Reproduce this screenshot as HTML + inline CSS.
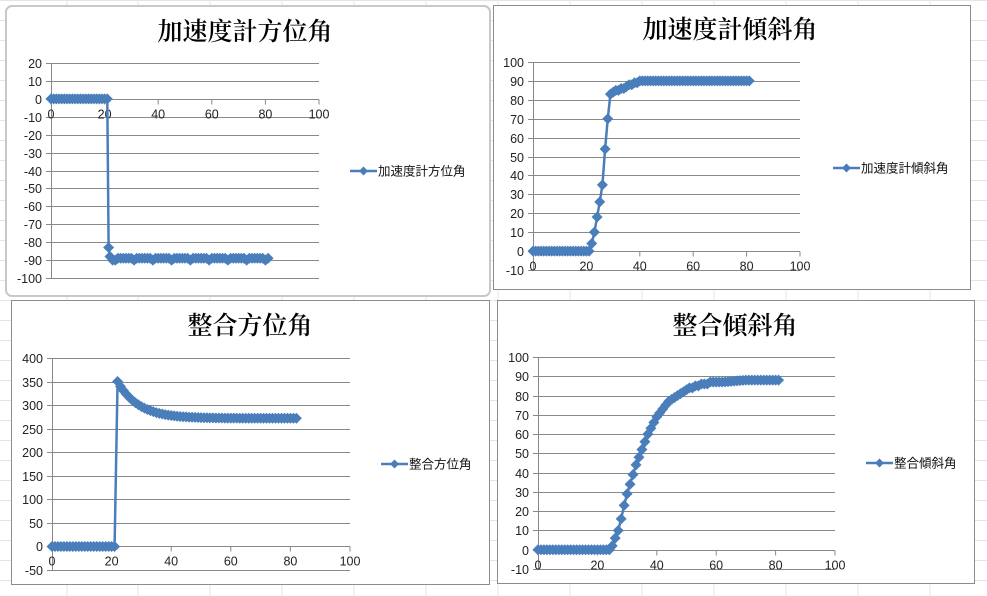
<!DOCTYPE html>
<html><head><meta charset="utf-8"><style>
html,body{margin:0;padding:0;background:#fff;width:987px;height:596px;overflow:hidden}
svg{display:block}
text{font-family:"Liberation Sans","Noto Sans CJK JP",sans-serif}
</style></head><body>
<svg id="s" width="987" height="596" xmlns="http://www.w3.org/2000/svg"></svg>
<script>
const s=document.getElementById('s');let h='';
for(let x of [67,138,210,282,354,426,498,570,642,714,786,858,930])h+=`<line x1="${x}" y1="0" x2="${x}" y2="596" stroke="#e4e4e4" stroke-width="1"/>`;
for(let y=0;y<596;y+=20)h+=`<line x1="0" y1="${y+0.5}" x2="987" y2="${y+0.5}" stroke="#e4e4e4" stroke-width="1"/>`;
function chart(c){
 const [fx,fy,fw,fh]=c.frame;
 h+=`<rect x="${fx}" y="${fy}" width="${fw}" height="${fh}" rx="${c.rx||0}" fill="#fff" stroke="${c.rx?'#c8c8c8':'#8c8c8c'}" stroke-width="${c.rx?2:1}"/>`;
 h+=`<text x="${c.tx}" y="${c.ty}" font-size="25" text-anchor="middle" style="font-family:'Noto Serif CJK SC','Noto Serif CJK JP',serif;font-weight:600">${c.title}</text>`;
 const X=v=>c.x0+(c.x1-c.x0)*v/100, Y=v=>c.y0+(c.y1-c.y0)*(v-c.ymin)/(c.ymax-c.ymin);
 for(let v=c.ymin;v<=c.ymax;v+=c.ystep){const y=Math.round(Y(v))+0.5;
  h+=`<line x1="${c.x0-5}" y1="${y}" x2="${c.x1}" y2="${y}" stroke="#888" stroke-width="1"/>`;
  h+=`<text x="${c.x0-9}" y="${y+4.5}" font-size="12.5" text-anchor="end" fill="#222">${v}</text>`;}
 h+=`<line x1="${c.x0+0.5}" y1="${Y(c.ymin)}" x2="${c.x0+0.5}" y2="${Y(c.ymax)}" stroke="#888"/>`;
 const y0=Math.round(Y(0))+0.5;
 for(let v=0;v<=100;v+=20){const x=X(v);h+=`<line x1="${x}" y1="${y0}" x2="${x}" y2="${y0+5}" stroke="#888"/>`;
  h+=`<text x="${x}" y="${y0+19}" font-size="12.5" text-anchor="middle" fill="#222">${v}</text>`;}
 const pts=c.data.map(([a,b])=>[X(a),Y(b)]);
 h+=`<polyline points="${pts.map(p=>p.join(',')).join(' ')}" fill="none" stroke="#4A7EBB" stroke-width="2.5"/>`;
 for(const [x,y] of pts)h+=`<path d="M${x-5.5},${y}L${x},${y-5.5}L${x+5.5},${y}L${x},${y+5.5}Z" fill="#4A7EBB"/>`;
 const [lx,ly]=c.leg;
 h+=`<line x1="${lx}" y1="${ly}" x2="${lx+27}" y2="${ly}" stroke="#4A7EBB" stroke-width="2.5"/><path d="M${lx+13.5-4.5},${ly}L${lx+13.5},${ly-4.5}L${lx+18},${ly}L${lx+13.5},${ly+4.5}Z" fill="#4A7EBB"/>`;
 h+=`<text x="${lx+28}" y="${ly+4.5}" font-size="12.5" fill="#111">${c.title}</text>`;
}
let d1=[];for(let i=0;i<=20;i++)d1.push([i,0]);d1.push([21,0],[21.5,-83],[22,-88],[23,-90]);for(let i=24;i<=81;i++)d1.push([i,-89-(i%7==3?1:0)]);
let d2=[];for(let i=0;i<=21;i++)d2.push([i,0]);
[[22,4],[23,10],[24,18],[25,26],[26,35],[27,54],[28,70],[29,83],[30,84],[31,85],[32,85],[33,86],[34,86],[35,87],[36,88],[37,88],[38,89],[39,89]].forEach(p=>d2.push(p));for(let i=40;i<=81;i++)d2.push([i,90]);
let d3=[];for(let i=0;i<=21;i++)d3.push([i,0]);for(let i=22;i<=82;i++)d3.push([i,272+78*Math.exp(-(i-22)/7)]);
let d4=[];for(let i=0;i<=24;i++)d4.push([i,0]);
const s4=[2,6,10,16,23,29,34,39,44,48,52,56,60,63,66,69,71,73,75,77,78,79,80,81,82,83,84,84,85,85,86,86,86,87,87,87,87];
s4.forEach((v,k)=>d4.push([25+k,v]));for(let i=62;i<=81;i++)d4.push([i,Math.min(88,87+(i-62)/8)]);
chart({frame:[6,6,484,290],rx:6,title:'加速度計方位角',tx:245,ty:40,x0:51,x1:319,y0:278,y1:63,ymin:-100,ymax:20,ystep:10,data:d1,leg:[350,171]});
chart({frame:[493.5,5.5,477,284],title:'加速度計傾斜角',tx:730,ty:38,x0:533,x1:800,y0:270,y1:62,ymin:-10,ymax:100,ystep:10,data:d2,leg:[833,168]});
chart({frame:[11.5,300.5,478,284],title:'整合方位角',tx:250,ty:334,x0:52,x1:350,y0:570,y1:358,ymin:-50,ymax:400,ystep:50,data:d3,leg:[381,464]});
chart({frame:[497.5,300.5,477,283],title:'整合傾斜角',tx:735,ty:334,x0:538,x1:835,y0:569,y1:357,ymin:-10,ymax:100,ystep:10,data:d4,leg:[866,463]});
s.innerHTML=h;
</script>
</body></html>
